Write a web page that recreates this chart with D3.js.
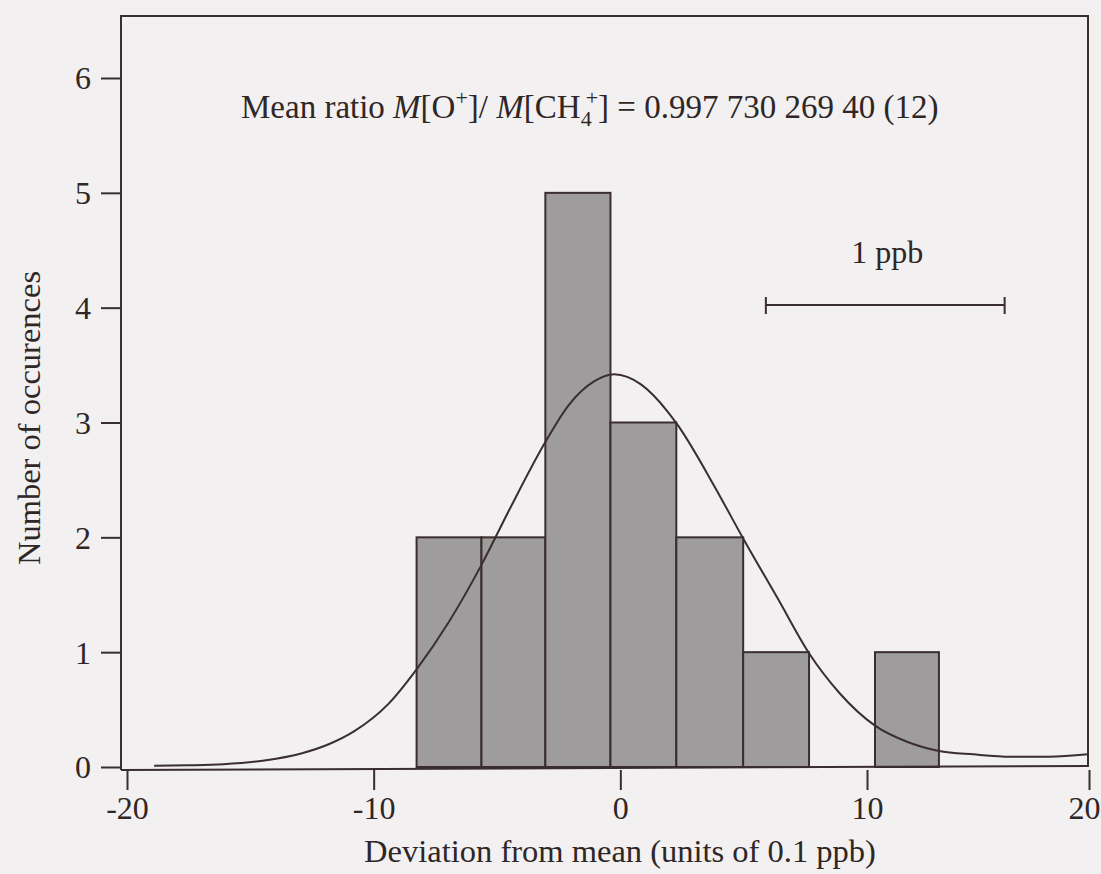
<!DOCTYPE html>
<html>
<head>
<meta charset="utf-8">
<script src="https://cdn.jsdelivr.net/npm/d3@7"></script>
<style>
  html, body { margin: 0; padding: 0; background: #f2f0f0; }
  svg { display: block; }
  text { font-family: "Liberation Serif", "Times New Roman", serif; fill: #2f2626; }
</style>
</head>
<body>
<svg id="chart" width="1101" height="874"></svg>
<script>
// ---- data ----
const binStart = [-8.26, -5.63, -3.04, -0.40, 2.27, 4.98, 10.36];
const binEnd   = [-5.63, -3.04, -0.40, 2.27, 4.98, 7.65, 13.24];
const counts   = [2, 2, 5, 3, 2, 1, 1];

// fitted curve
const curveX = [-18.9, -17.5, -16.1, -14.5, -12.9, -11.8, -10.8, -9.4, -8.26, -6.96, -5.63, -4.5, -3.04, -2.1, -1.05, -0.25, 0.85, 1.9, 2.35, 3.8, 4.98, 6.4, 7.65, 8.9, 10.36, 11.8, 13.24, 14.8, 16.5, 18.2, 19.95];
const curveY = [0.01, 0.015, 0.025, 0.055, 0.12, 0.2, 0.31, 0.55, 0.85, 1.26, 1.76, 2.24, 2.83, 3.15, 3.36, 3.42, 3.33, 3.10, 2.97, 2.45, 1.99, 1.46, 0.99, 0.64, 0.36, 0.22, 0.14, 0.11, 0.09, 0.09, 0.11];

const xTicks = [-20, -10, 0, 10, 20];
const yTicks = [0, 1, 2, 3, 4, 5, 6];
const xTitle = "Deviation from mean (units of 0.1 ppb)";
const yTitle = "Number of occurences";
const scaleBarStart = 5.9, scaleBarEnd = 16.2;
const scaleBarLabel = "1 ppb";

// ---- layout ----
const svg = d3.select("#chart");
const ink = "#3a2e2e";
const frame = {left: 121, right: 1088, top: 16, bottom: 770};

// x axis in the printed figure is stretched unevenly: -20..10 wide, 10..20 narrower
const x = d3.scaleLinear().domain([-20, 10, 20]).range([127, 867, 1089]);
const y = d3.scaleLinear().domain([0, 6]).range([767, 78]);

// bars
const bars = counts.map((c, i) => ({x0: binStart[i], x1: binEnd[i], c}));
svg.append("g").selectAll("rect").data(bars).join("rect")
  .attr("x", d => x(d.x0))
  .attr("y", d => y(d.c))
  .attr("width", d => x(d.x1) - x(d.x0))
  .attr("height", d => y(0) - y(d.c))
  .attr("fill", "#9e9c9d")
  .attr("stroke", ink)
  .attr("stroke-width", 2);

// curve
const pts = curveX.map((v, i) => [v, curveY[i]]);
svg.append("path")
  .datum(pts)
  .attr("fill", "none")
  .attr("stroke", ink)
  .attr("stroke-width", 2)
  .attr("d", d3.line().x(d => x(d[0])).y(d => y(d[1])).curve(d3.curveMonotoneX));

// frame
svg.append("path")
  .attr("d", `M${frame.left},${frame.bottom}V${frame.top}H${frame.right}V${frame.bottom - 4}`)
  .attr("fill", "none").attr("stroke", ink).attr("stroke-width", 2);
svg.append("line")
  .attr("x1", frame.left).attr("x2", frame.right + 1)
  .attr("y1", frame.bottom).attr("y2", frame.bottom - 4)
  .attr("stroke", ink).attr("stroke-width", 2);

// y axis
const yAxis = svg.append("g")
  .attr("transform", `translate(${frame.left},0)`)
  .call(d3.axisLeft(y).tickValues(yTicks).tickSize(20).tickPadding(10).tickFormat(d => String(d)));
yAxis.select(".domain").remove();
yAxis.selectAll("line").attr("stroke", ink).attr("stroke-width", 2);
yAxis.selectAll("text").attr("font-size", 32).attr("dy", "0.34em").style("fill", "#2f2626");

// x axis
const xAxis = svg.append("g")
  .attr("transform", `translate(0,${frame.bottom})`)
  .call(d3.axisBottom(x).tickValues(xTicks).tickSize(20).tickPadding(6).tickFormat(d => String(d)));
xAxis.select(".domain").remove();
xAxis.selectAll("line").attr("stroke", ink).attr("stroke-width", 2);
xAxis.selectAll("text").attr("font-size", 32).attr("dy", "0.72em").style("fill", "#2f2626");
// last label sits against the page edge, as in the print
xAxis.selectAll(".tick").filter(d => d === 20).select("text").attr("text-anchor", "end").attr("dx", 11);

// axis titles
svg.append("text")
  .attr("x", 620).attr("y", 862)
  .attr("text-anchor", "middle").attr("font-size", 32.5)
  .text(xTitle);
svg.append("text")
  .attr("transform", "translate(40,418) rotate(-90)")
  .attr("text-anchor", "middle").attr("font-size", 32.5)
  .text(yTitle);

// annotation
const ann = svg.append("text").attr("x", 241).attr("y", 118).attr("font-size", 33);
ann.append("tspan").text("Mean ratio ");
ann.append("tspan").attr("font-style", "italic").text("M");
ann.append("tspan").text("[O");
ann.append("tspan").attr("font-size", 22).attr("dy", -13).text("+");
ann.append("tspan").attr("dy", 13).text("]/ ");
ann.append("tspan").attr("font-style", "italic").text("M");
ann.append("tspan").text("[CH");
ann.append("tspan").attr("font-size", 22).attr("dy", 8).text("4");
ann.append("tspan").attr("font-size", 22).attr("dy", -21).attr("dx", -6).text("+");
ann.append("tspan").attr("dy", 13).text("] = 0.997 730 269 40 (12)");

// scale bar
const sbY = 305;
const sb = svg.append("g").attr("stroke", ink).attr("stroke-width", 2);
sb.append("line").attr("x1", x(scaleBarStart)).attr("x2", x(scaleBarEnd)).attr("y1", sbY).attr("y2", sbY);
sb.append("line").attr("x1", x(scaleBarStart)).attr("x2", x(scaleBarStart)).attr("y1", sbY - 8).attr("y2", sbY + 9);
sb.append("line").attr("x1", x(scaleBarEnd)).attr("x2", x(scaleBarEnd)).attr("y1", sbY - 8).attr("y2", sbY + 9);
svg.append("text")
  .attr("x", (x(scaleBarStart) + x(scaleBarEnd)) / 2 + 2).attr("y", 263)
  .attr("text-anchor", "middle").attr("font-size", 32)
  .text(scaleBarLabel);
</script>
</body>
</html>
